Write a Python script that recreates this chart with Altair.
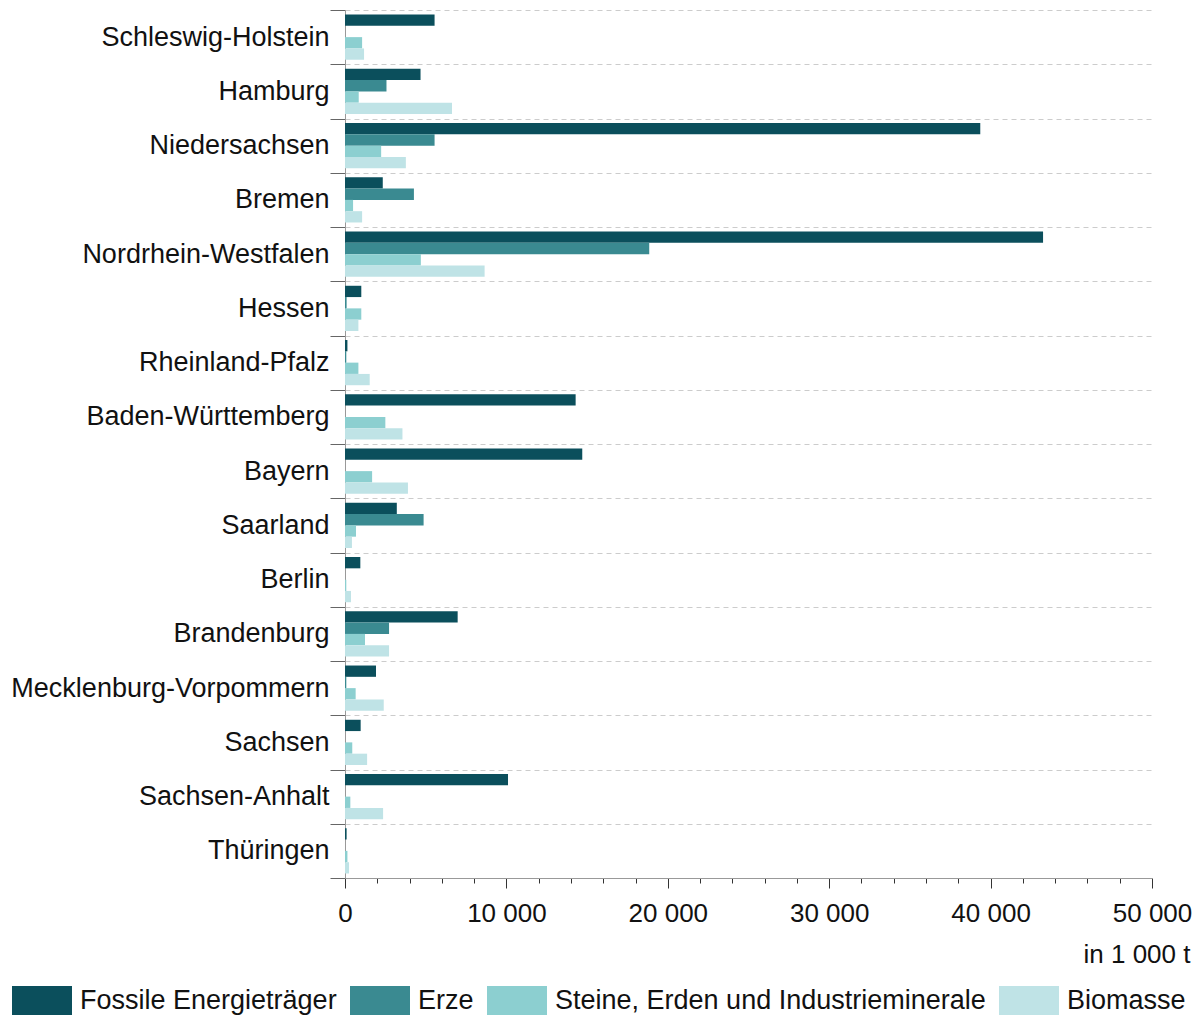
import altair as alt
import pandas as pd

states = [
    "Schleswig-Holstein", "Hamburg", "Niedersachsen", "Bremen",
    "Nordrhein-Westfalen", "Hessen", "Rheinland-Pfalz", "Baden-Württemberg",
    "Bayern", "Saarland", "Berlin", "Brandenburg",
    "Mecklenburg-Vorpommern", "Sachsen", "Sachsen-Anhalt", "Thüringen",
]
categories = [
    "Fossile Energieträger", "Erze",
    "Steine, Erden und Industrieminerale", "Biomasse",
]
fossil = [5550, 4680, 39360, 2340, 43250, 1010, 150, 14290, 14700, 3210, 950, 6980, 1920, 970, 10100, 100]
erze = [0, 2570, 5550, 4270, 18850, 100, 80, 0, 0, 4870, 0, 2730, 80, 0, 0, 0]
steine = [1060, 850, 2240, 500, 4700, 1010, 830, 2500, 1680, 680, 80, 1240, 660, 450, 330, 150]
biomasse = [1180, 6630, 3770, 1060, 8650, 830, 1530, 3560, 3900, 430, 370, 2730, 2400, 1370, 2360, 250]
colors = ["#0b4f5c", "#3a8a91", "#8ccfd0", "#bfe3e6"]

series = [fossil, erze, steine, biomasse]
rows = []
for i, s in enumerate(states):
    for cat, vals in zip(categories, series):
        rows.append({"Land": s, "Kategorie": cat, "Wert": vals[i]})
df = pd.DataFrame(rows)

FONT = "Liberation Sans"

chart = alt.Chart(df).mark_bar().encode(
    y=alt.Y(
        "Land:N", sort=states,
        scale=alt.Scale(paddingInner=0, paddingOuter=0),
        axis=alt.Axis(
            title=None, tickBand="extent", grid=True, gridDash=[5, 4],
            gridColor="#cccccc", gridWidth=1, domainColor="#999999",
            tickColor="#666666", tickSize=15, labelPadding=1,
            labelFontSize=27, labelFont=FONT, labelColor="#111111",
            labelLimit=0,
        ),
    ),
    yOffset=alt.YOffset(
        "Kategorie:N", sort=categories,
        scale=alt.Scale(paddingInner=0, paddingOuter=0.4),
    ),
    x=alt.X(
        "Wert:Q",
        scale=alt.Scale(domain=[0, 50000], nice=False),
        axis=alt.Axis(
            values=list(range(0, 50001, 2000)),
            labelExpr="datum.value % 10000 === 0 ? replace(format(datum.value, ','), ',', ' ') : ''",
            tickSize={"condition": {"test": "datum.value % 10000 === 0", "value": 10}, "value": 5},
            tickColor="#333333", domainColor="#999999", grid=False,
            labelFontSize=26, labelFont=FONT, labelColor="#111111",
            labelPadding=12, labelFlush=False, labelOverlap=False,
            title="in 1 000 t", titleFont=FONT, titleFontSize=26,
            titleFontWeight="normal", titleColor="#111111",
            titleX=845, titleY=84, titleAlign="right",
            titleBaseline="alphabetic", titleAnchor="end",
        ),
    ),
    color=alt.Color(
        "Kategorie:N", sort=categories,
        scale=alt.Scale(domain=categories, range=colors),
        legend=alt.Legend(
            title=None, orient="none", legendX=-333, legendY=961,
            direction="horizontal",
            symbolType="M-1,-0.5H1V0.5H-1Z", symbolSize=3600,
            symbolStrokeWidth=0, symbolOpacity=1,
            labelFont=FONT, labelFontSize=27, labelColor="#111111",
            labelOffset=8, columnPadding=13, labelLimit=0,
        ),
    ),
).properties(
    width=807, height=868,
    padding={"left": 337, "top": 2, "right": 41, "bottom": 137},
    autosize=alt.AutoSizeParams(type="none"),
).configure(font=FONT, view=alt.ViewConfig(stroke=None))

chart.save("out.html", embed_options={"renderer": "svg", "actions": False})
